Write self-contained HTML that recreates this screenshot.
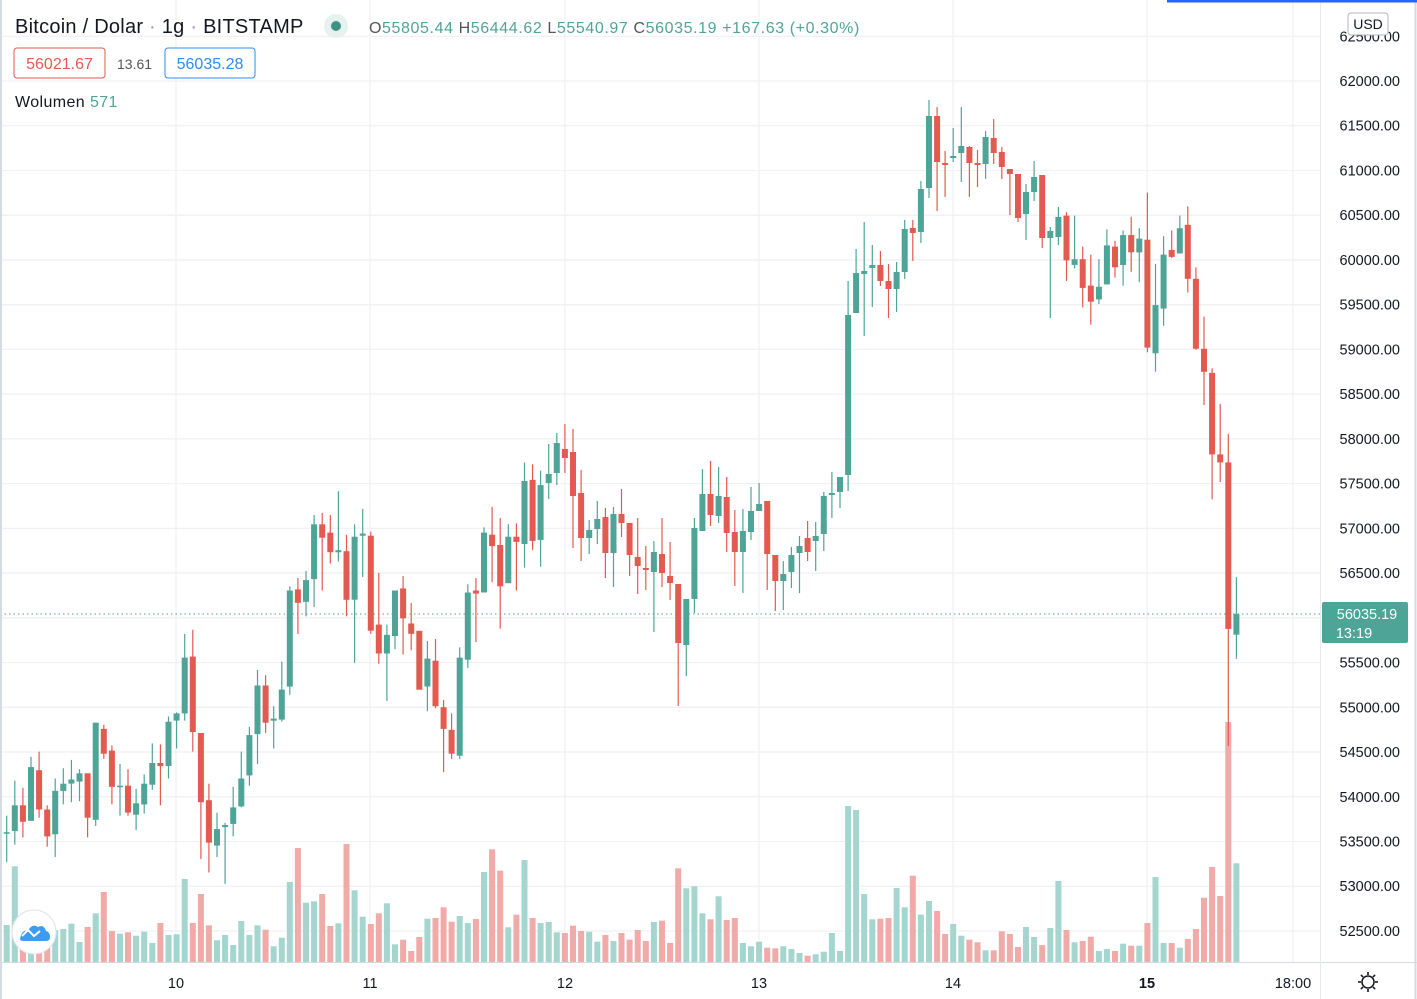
<!DOCTYPE html>
<html><head><meta charset="utf-8">
<style>
html,body{margin:0;padding:0;background:#fff;}
body{width:1417px;height:999px;overflow:hidden;position:relative;font-family:"Liberation Sans","DejaVu Sans",sans-serif;}
svg{position:absolute;left:0;top:0;}
</style></head><body>
<svg id="c" width="1417" height="999" xmlns="http://www.w3.org/2000/svg"></svg>
<script>
const S=document.getElementById('c');let h='';
const G='#4fa498',R='#e35a50',GV='#a4d5cf',RV='#f0aaa7';
function py(p){return 81+(62000-p)*0.08947;}
for(let p=52500;p<=62500;p+=500){const y=py(p);h+=`<line x1="0" x2="1320" y1="${y}" y2="${y}" stroke="#f0f1f4" stroke-width="1.3"/>`;}
[176,370,565,759,953,1147,1293].forEach(x=>{h+=`<line x1="${x}" x2="${x}" y1="0" y2="962" stroke="#f0f1f4" stroke-width="1.3"/>`;});
for(let p=52500;p<=62500;p+=500){const y=py(p);h+=`<text x="1400" y="${y+5}" text-anchor="end" font-size="14.5" fill="#131722">${p.toFixed(2)}</text>`;}
const A=[[819,819,803,848,'g'],[793,818,769,831,'g'],[793,809,776,824,'r'],[756,808,746,808,'g'],[759,797,741,805,'r'],[797,823,793,833,'r'],[779,821,767,843,'g'],[772,779,757,792,'g'],[768,772,749,790,'g'],[762,770,758,789,'g'],[762,805,762,824,'r'],[713,807,713,813,'g'],[719,743,715,748,'r'],[740,775,735,792,'r'],[774,774,753,803,'g'],[774,800,758,803,'r'],[791,802,777,817,'g'],[772,792,763,801,'g'],[752,773,733,778,'g'],[752,755,734,793,'r'],[712,755,707,767,'g'],[704,711,703,738,'g'],[650,704,627,711,'g'],[649,722,623,741,'r'],[723,790,723,845,'r'],[788,829,772,858,'r'],[816,832,800,843,'g'],[812,814,810,869,'g'],[795,811,775,823,'g'],[767,794,741,795,'g'],[725,764,717,774,'g'],[677,724,662,753,'g'],[677,713,667,723,'r'],[709,711,697,738,'g'],[681,710,654,712,'g'],[585,678,581,686,'g'],[584,597,573,627,'r'],[575,596,566,610,'g'],[521,574,512,601,'g'],[521,534,510,585,'r'],[529,548,512,559,'r'],[546,548,489,557,'g'],[547,594,531,610,'r'],[533,594,521,655,'g'],[530,532,506,572,'g'],[532,624,528,627,'r'],[618,646,568,656,'r'],[628,646,618,692,'g'],[585,629,585,642,'g'],[583,612,571,647,'r'],[617,627,597,643,'r'],[624,681,624,681,'r'],[651,678,634,702,'g'],[653,697,632,699,'r'],[698,719,691,761,'r'],[720,743,704,748,'r'],[650,745,640,748,'g'],[587,652,579,660,'g'],[585,588,573,635,'r'],[529,587,524,587,'g'],[531,542,504,577,'r'],[541,581,515,622,'r'],[533,578,521,578,'g'],[533,538,520,585,'r'],[479,540,461,563,'g'],[478,537,463,546,'r'],[483,536,469,562,'g']].map(a=>a.map(v=>typeof v=='number'?420+(v-420)*1.0331:v));
const Bd=[[474,483,444,499,'g'],[443,473,433,485,'g'],[449,458,424,473,'r'],[452,496,429,548,'r'],[493,538,470,561,'r'],[530,538,520,554,'g'],[519,529,501,544,'g'],[517,553,508,578,'r'],[514,553,507,587,'g'],[514,523,489,537,'r'],[523,555,523,576,'r'],[557,566,518,594,'r'],[568,570,546,590,'r'],[552,572,541,632,'g'],[554,573,518,587,'r'],[576,583,542,600,'r'],[584,643,584,706,'r'],[599,645,599,676,'g'],[528,599,518,613,'g'],[494,531,469,531,'g'],[494,515,461,526,'r'],[496,516,467,523,'g'],[497,533,477,552,'r'],[532,552,510,586,'r'],[531,552,509,593,'g'],[511,532,487,540,'g'],[504,511,483,511,'g'],[501,554,501,590,'r'],[555,581,555,611,'r'],[574,581,561,610,'g'],[555,572,547,588,'g'],[546,553,536,593,'g'],[538,552,521,561,'r'],[536,541,522,571,'g'],[496,534,492,551,'g'],[493,495,472,518,'g'],[477,492,477,508,'g'],[315,475,281,491,'g'],[273,313,249,313,'g'],[271,274,222,336,'g'],[265,268,245,307,'g'],[265,281,251,286,'r'],[281,289,264,318,'r'],[272,289,262,312,'g'],[229,272,220,279,'g'],[228,233,220,261,'r'],[189,232,181,243,'g'],[116,188,100,198,'g'],[116,162,107,211,'r'],[163,165,151,197,'r'],[156,158,128,162,'g'],[146,153,107,182,'g'],[147,163,146,197,'r'],[163,165,150,187,'r'],[137,164,131,179,'g'],[138,153,119,164,'r'],[152,167,147,179,'r'],[169,174,169,215,'r'],[174,218,174,222,'r'],[192,214,184,240,'g'],[177,192,161,201,'g'],[175,238,175,248,'r'],[231,238,227,318,'g'],[217,237,207,245,'g']];
const C=[[211,250,208,268,'r'],[249,254,211,257,'g'],[249,274,238,291,'r'],[272,286,245,306,'r'],[273,284,249,288,'g'],[237,271,223,271,'g'],[238,256,233,265,'r'],[228,254,224,272,'g'],[228,243,212,260,'r'],[231,243,222,269,'g'],[232,326,191,330,'r'],[289,331,253,347,'g'],[245,292,229,307,'g'],[241,247,224,248,'r'],[222,244,211,244,'g'],[219,266,203,278,'r'],[266,327,256,328,'r'],[327,347,299,376,'r'],[348,419,344,458,'r'],[419,426,375,443,'r'],[426,571,401,673,'r'],[558,576,526,597,'g']].map(a=>a.map(v=>typeof v=='number'?180+(v-180)*1.1481:v));
const D=A.concat(Bd,C);
const V=[375,199,410,420,380,410,390,387,371,426,381,340,276,393,401,397,407,395,429,369,405,403,237,369,282,376,421,405,435,363,405,376,389,439,413,246,144,308,304,282,378,370,132,271,350,372,340,310,433,419,453,411,356,354,322,365,348,369,357,216,148,212,382,344,180,354,369,366,397,399,377,393,395,425,405,423,399,419,390,423,366,362,429,205,265,259,340,358,289,360,354,429,439,425,443,445,439,447,459,467,463,455,399,453,18,30,282,358,356,354,264,322,227,344,303,333,402,372,407,419,427,451,451,394,402,441,381,411,435,384,243,390,427,423,410,453,447,453,431,437,437,369,231,429,429,443,417,387,293,201,288,-234,190];
D.forEach((d,i)=>{const x=6.7+8.09*i;const zy=V[i]!==undefined?V[i]:420;const t=800+zy/3;h+=`<rect x="${(x-3).toFixed(1)}" y="${t.toFixed(1)}" width="6" height="${(962-t).toFixed(1)}" fill="${d[4]=='g'?GV:RV}"/>`;});
h+=`<line x1="0" x2="1320" y1="614" y2="614" stroke="#4fa498" stroke-width="1" stroke-dasharray="1.5,3"/>`;
D.forEach((d,i)=>{const x=6.7+8.09*i;const col=d[4]=='g'?G:R;const t=Math.min(d[0],d[1]);let b=Math.max(d[0],d[1]);if(b-t<1.5)b=t+1.5;
h+=`<line x1="${x.toFixed(1)}" x2="${x.toFixed(1)}" y1="${d[2].toFixed(1)}" y2="${d[3].toFixed(1)}" stroke="${col}" stroke-width="1.2"/>`;
h+=`<rect x="${(x-3).toFixed(1)}" y="${t.toFixed(1)}" width="6" height="${(b-t).toFixed(1)}" fill="${col}"/>`;});
h+=`<line x1="1" x2="1" y1="0" y2="999" stroke="#d6dae3" stroke-width="2"/>`;
h+=`<line x1="1415.5" x2="1415.5" y1="0" y2="999" stroke="#d6dae3" stroke-width="2"/>`;
h+=`<line x1="0" x2="1417" y1="962.5" y2="962.5" stroke="#d6dae3" stroke-width="1"/>`;
h+=`<line x1="1320.5" x2="1320.5" y1="0" y2="999" stroke="#e8eaef" stroke-width="1"/>`;
h+=`<line x1="1167" x2="1417" y1="1" y2="1" stroke="#2962ff" stroke-width="3"/>`;
[[176,'10'],[370,'11'],[565,'12'],[759,'13'],[953,'14'],[1147,'15'],[1293,'18:00']].forEach(a=>{h+=`<text x="${a[0]}" y="988" text-anchor="middle" font-size="14.5" fill="#131722" ${a[1]=='15'?'font-weight="bold"':''}>${a[1]}</text>`;});
h+=`<rect x="1322" y="602" width="86" height="41" rx="2" fill="#4fa498"/><text x="1367" y="619" text-anchor="middle" font-size="14.5" fill="#fff">56035.19</text><text x="1354" y="638" text-anchor="middle" font-size="14.5" fill="#fff">13:19</text>`;
h+=`<rect x="1348" y="13" width="40" height="22" rx="3" fill="#fff" stroke="#b2b5be"/><text x="1368" y="29" text-anchor="middle" font-size="14" fill="#131722">USD</text>`;
h+=`<circle cx="1368" cy="982" r="6" fill="none" stroke="#131722" stroke-width="1.5"/>`;
for(let k=0;k<8;k++){const a=k*Math.PI/4;h+=`<line x1="${1368+7*Math.cos(a)}" y1="${982+7*Math.sin(a)}" x2="${1368+10*Math.cos(a)}" y2="${982+10*Math.sin(a)}" stroke="#131722" stroke-width="1.6"/>`;}
h+=`<circle cx="34" cy="932" r="22" fill="#fff" stroke="#e0e3eb"/><path d="M20 939 q2-10 8-8 q4-8 10-4 q6-3 8 4 q4 1 4 6 q0 4-4 4 h-22 q-4 0-4-2z" fill="#3d9bf0"/><path d="M22 936 l6-6 l6 6 l6-5" fill="none" stroke="#fff" stroke-width="2"/>`;
h+=`<text x="15" y="33" font-size="20" fill="#131722" letter-spacing="0.25">Bitcoin / Dolar<tspan fill="#999"> · </tspan>1g<tspan fill="#999"> · </tspan>BITSTAMP</text>`;
h+=`<circle cx="336" cy="26" r="12" fill="#e6f2f0"/><circle cx="336" cy="26" r="5" fill="#3f9285"/>`;
h+=`<text x="369" y="33" font-size="16" fill="#4fa498" letter-spacing="0.6"><tspan fill="#555">O</tspan>55805.44 <tspan fill="#555">H</tspan>56444.62 <tspan fill="#555">L</tspan>55540.97 <tspan fill="#555">C</tspan>56035.19 +167.63 (+0.30%)</text>`;
h+=`<rect x="14" y="48" width="91" height="30" rx="3" fill="#fff" stroke="#e35a50"/><text x="59.5" y="69" text-anchor="middle" font-size="16" fill="#e35a50">56021.67</text>`;
h+=`<text x="117" y="69" font-size="14" fill="#555">13.61</text>`;
h+=`<rect x="165" y="48" width="90" height="30" rx="3" fill="#fff" stroke="#2e8bf0"/><text x="210" y="69" text-anchor="middle" font-size="16" fill="#2e8bf0">56035.28</text>`;
h+=`<text x="15" y="107" font-size="16" fill="#131722" letter-spacing="0.4">Wolumen <tspan fill="#4fa498">571</tspan></text>`;
S.innerHTML=h;
</script>
</body></html>
